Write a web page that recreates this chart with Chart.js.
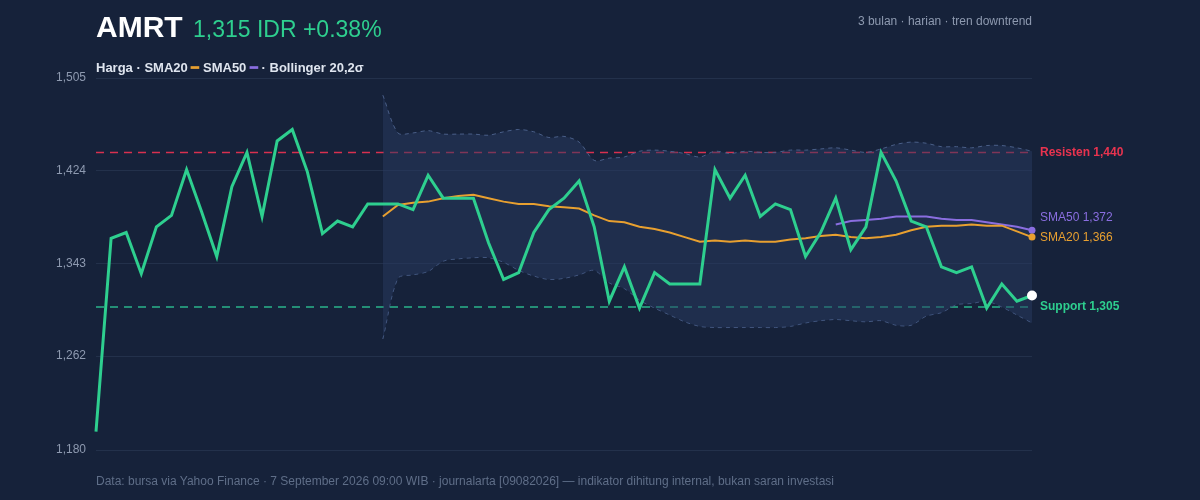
<!DOCTYPE html>
<html>
<head>
<meta charset="utf-8">
<script src="https://cdn.jsdelivr.net/npm/chart.js@4"></script>
<style>
  body { margin:0; background:#16223a; font-family:"Helvetica Neue", Arial, "Liberation Sans", sans-serif; }
  #wrap { position:relative; width:1200px; height:500px; }
  canvas { position:absolute; left:0; top:0; }
  .t { position:absolute; white-space:nowrap; }
</style>
</head>
<body>
<div id="wrap">
  <canvas id="c" width="1200" height="500"></canvas>
  <div class="t" style="left:96px;top:10px;font-size:30px;font-weight:bold;color:#fff">AMRT <span style="font-size:23px;font-weight:normal;color:#2ecf8f;margin-left:2px">1,315 IDR +0.38%</span></div>
  <div class="t" style="right:168px;top:14px;font-size:12px;color:#8e9ab0">3 bulan · harian · tren downtrend</div>
  <div class="t" style="left:96px;top:60px;font-size:13px;font-weight:bold;color:#dfe5ef">Harga · SMA20 <span style="color:#e8a030">━</span> SMA50 <span style="color:#8a6ee0">━</span> · Bollinger 20,2σ</div>
  <div class="t" style="left:96px;top:474px;font-size:12px;color:#5f6e88">Data: bursa via Yahoo Finance · 7 September 2026 09:00 WIB · journalarta [09082026] — indikator dihitung internal, bukan saran investasi</div>
</div>
<script>
// daily closes, 63 sessions
const price = [1196,1365,1370,1334,1375,1385,1425,1388,1349,1410,1440,1384,1450,1460,1423,1369,1380,1375,1395,1395,
  1395,1390,1420,1400,1400,1400,1361,1329,1335,1370,1390,1400,1415,1375,1310,1340,1304,1335,1325,1325,
  1325,1425,1400,1420,1384,1395,1390,1349,1370,1400,1355,1375,1440,1415,1380,1375,1340,1335,1340,1304,
  1325,1310,1315];
const sma20 = [null,null,null,null,null,null,null,null,null,null,null,null,null,null,null,null,null,null,null,1384,
  1394,1396,1397,1400,1402,1403,1400,1397,1395,1395,1393,1392,1391,1385,1380,1379,1375,1373,1370,1366,
  1362,1363,1362,1363,1362,1362,1364,1365,1367,1368,1366,1365,1366,1368,1372,1375,1376,1376,1377,1376,
  1376,1371,1366];
const sma50 = [null,null,null,null,null,null,null,null,null,null,null,null,null,null,null,null,null,null,null,null,
  null,null,null,null,null,null,null,null,null,null,null,null,null,null,null,null,null,null,null,null,
  null,null,null,null,null,null,null,null,null,1377,1380,1381,1382,1384,1384,1384,1382,1381,1381,1379,
  1377,1375,1372];
const bbUpper = [null,null,null,null,null,null,null,null,null,null,null,null,null,null,null,null,null,null,null,1490,
  1457,1457,1459,1456,1456,1456,1455,1458,1460,1458,1453,1454,1449,1433,1435,1436,1441,1442,1441,1439,
  1436,1441,1439,1441,1440,1440,1442,1442,1443,1444,1442,1440,1443,1447,1449,1448,1445,1445,1444,1446,
  1446,1444,1441];
const bbLower = [null,null,null,null,null,null,null,null,null,null,null,null,null,null,null,null,null,null,null,1277,
  1330,1333,1336,1345,1347,1348,1348,1344,1337,1332,1329,1330,1333,1337,1326,1321,1311,1304,1298,1292,
  1288,1287,1287,1287,1287,1287,1288,1291,1293,1294,1293,1292,1293,1289,1289,1297,1300,1307,1308,1310,
  1305,1298,1291];
const resistance = 1440, support = 1305;
const yTicks = [1180, 1262, 1343, 1424, 1505];
const labels = price.map((_, i) => i);
const last = price.length - 1;

const endDot = r => ctx => ctx.dataIndex === last ? r : 0;

const levels = {
  id: 'levels',
  beforeDatasetsDraw(chart) {
    const { ctx, chartArea: a, scales: { y } } = chart;
    ctx.save();
    ctx.setLineDash([8, 6]);
    ctx.lineWidth = 1.5;
    [[resistance, '#d8304f'], [support, '#2ab48a']].forEach(([v, c]) => {
      const py = y.getPixelForValue(v);
      ctx.strokeStyle = c;
      ctx.beginPath(); ctx.moveTo(a.left, py); ctx.lineTo(a.right, py); ctx.stroke();
    });
    ctx.restore();
  },
  afterDatasetsDraw(chart) {
    const { ctx, chartArea: a, scales: { y } } = chart;
    ctx.save();
    ctx.textBaseline = 'middle';
    ctx.font = 'bold 12px "Helvetica Neue", Arial, sans-serif';
    ctx.fillStyle = '#e8334f';
    ctx.fillText('Resisten 1,440', a.right + 8, y.getPixelForValue(resistance));
    ctx.fillStyle = '#2ecf8f';
    ctx.fillText('Support 1,305', a.right + 8, y.getPixelForValue(support));
    ctx.font = '12px "Helvetica Neue", Arial, sans-serif';
    ctx.fillStyle = '#8a6ee0';
    ctx.fillText('SMA50 1,372', a.right + 8, y.getPixelForValue(sma50[last]) - 13);
    ctx.fillStyle = '#e8a030';
    ctx.fillText('SMA20 1,366', a.right + 8, y.getPixelForValue(sma20[last]) + 1);
    ctx.restore();
  }
};

new Chart(document.getElementById('c'), {
  type: 'line',
  data: {
    labels,
    datasets: [
      { data: bbUpper, borderColor: '#4a5f88', borderWidth: 1, borderDash: [4, 4], pointRadius: 0,
        fill: '+1', backgroundColor: 'rgba(40,58,96,0.5)', tension: 0.3, order: 5 },
      { data: bbLower, borderColor: '#4a5f88', borderWidth: 1, borderDash: [4, 4], pointRadius: 0,
        fill: false, tension: 0.3, order: 5 },
      { data: sma50, borderColor: '#8a6ee0', borderWidth: 2, pointRadius: endDot(3.5),
        pointBackgroundColor: '#8a6ee0', pointBorderWidth: 0, order: 3 },
      { data: sma20, borderColor: '#e8a030', borderWidth: 2, pointRadius: endDot(3.5),
        pointBackgroundColor: '#e8a030', pointBorderWidth: 0, order: 2 },
      { data: price, borderColor: '#2ecf8f', borderWidth: 3, pointRadius: endDot(5),
        pointBackgroundColor: '#fff', pointBorderWidth: 0, order: 1 }
    ]
  },
  options: {
    responsive: false,
    animation: false,
    layout: { padding: { top: 78, right: 168, bottom: 50, left: 0 } },
    plugins: { legend: { display: false }, tooltip: { enabled: false } },
    scales: {
      x: { display: false, offset: false },
      y: {
        min: 1180, max: 1505,
        afterFit: s => { s.width = 96; },
        afterBuildTicks: s => { s.ticks = yTicks.map(v => ({ value: v })); },
        ticks: { color: '#8e9ab0', font: { size: 12 }, padding: 10,
          callback: v => v.toLocaleString('en-US') },
        grid: { color: 'rgba(60,78,110,0.35)', lineWidth: 1, drawTicks: false },
        border: { display: false }
      }
    }
  },
  plugins: [levels]
});
</script>
</body>
</html>
